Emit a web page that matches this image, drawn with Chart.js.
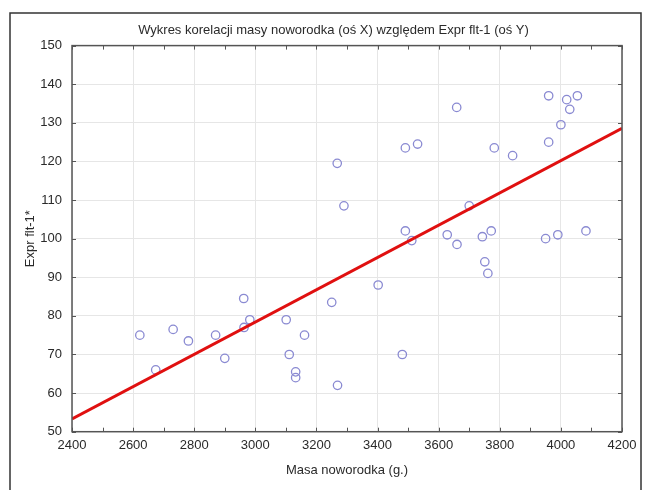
<!DOCTYPE html>
<html>
<head>
<meta charset="utf-8">
<style>
  html, body { margin: 0; padding: 0; background: #fff; }
  #wrap { width: 653px; height: 490px; }
</style>
<script src="https://cdn.jsdelivr.net/npm/chart.js@4/dist/chart.umd.min.js"></script>
</head>
<body>
<div id="wrap"><canvas id="wykres" width="653" height="490"></canvas></div>
<script>
// masa noworodka (g.) i Expr flt-1
const masa = [2622, 2674, 2731, 2781, 2870, 2900, 2962, 2963, 2982, 3101,
              3111, 3132, 3132, 3161, 3250, 3269, 3402, 3268, 3290, 3491,
              3531, 3491, 3512, 3628, 3659, 3960, 4019, 4054, 4029, 4000,
              3960, 3782, 3842, 3700, 3660, 3743, 3772, 3751, 3761, 3950,
              3990, 4082, 3481];
const expr = [75, 66, 76.5, 73.5, 75, 69, 84.5, 77, 79, 79,
              70, 65.5, 64, 75, 83.5, 62, 88, 119.5, 108.5, 123.5,
              124.5, 102, 99.5, 101, 134, 137, 136, 137, 133.5, 129.5,
              125, 123.5, 121.5, 108.5, 98.5, 100.5, 102, 94, 91, 100,
              101, 102, 70];

// linia regresji (końce)
const trendX = [2400, 4200];
const trendY = [53.3, 128.6];

const xTicks = [2400, 2600, 2800, 3000, 3200, 3400, 3600, 3800, 4000, 4200];
const yTicks = [50, 60, 70, 80, 90, 100, 110, 120, 130, 140, 150];

const FONT = 'Liberation Sans, Arial, sans-serif';
const TEXT = '#2a2a2a';

// ramka, górna/prawa krawędź i kreski podziałki do środka
const ramka = {
  id: 'ramka',
  afterDraw(chart) {
    const { ctx, chartArea: a, scales } = chart;
    ctx.save();
    ctx.strokeStyle = '#555';
    ctx.lineWidth = 1.5;
    ctx.strokeRect(a.left, a.top, a.right - a.left, a.bottom - a.top);
    ctx.lineWidth = 1;
    ctx.beginPath();
    for (let v = 2400; v <= 4200; v += 100) {
      const px = Math.round(scales.x.getPixelForValue(v)) + 0.5;
      ctx.moveTo(px, a.bottom); ctx.lineTo(px, a.bottom - 4);
      ctx.moveTo(px, a.top); ctx.lineTo(px, a.top + 4);
    }
    for (let v = 50; v <= 150; v += 10) {
      const py = Math.round(scales.y.getPixelForValue(v)) + 0.5;
      ctx.moveTo(a.left, py); ctx.lineTo(a.left + 4, py);
      ctx.moveTo(a.right, py); ctx.lineTo(a.right - 4, py);
    }
    ctx.stroke();
    // zewnętrzna ramka
    ctx.strokeStyle = '#333';
    ctx.lineWidth = 1.5;
    ctx.strokeRect(10, 13, 631, 490);
    ctx.restore();
  }
};

new Chart(document.getElementById('wykres'), {
  data: {
    datasets: [
      {
        type: 'line',
        label: 'regresja',
        data: trendX.map((x, i) => ({ x, y: trendY[i] })),
        borderColor: '#e01010',
        borderWidth: 3,
        pointRadius: 0,
        fill: false
      },
      {
        type: 'scatter',
        label: 'Expr flt-1',
        data: masa.map((x, i) => ({ x, y: expr[i] })),
        borderColor: '#8a8ad2',
        backgroundColor: 'rgba(0,0,0,0)',
        borderWidth: 1.3,
        pointRadius: 4.2,
        pointHoverRadius: 4.2
      }
    ]
  },
  options: {
    responsive: false,
    animation: false,
    layout: { padding: { left: 14, right: 0, top: 13, bottom: 0 } },
    plugins: {
      legend: { display: false },
      tooltip: { enabled: false },
      title: {
        display: true,
        text: 'Wykres korelacji masy noworodka (oś X) względem Expr flt-1 (oś Y)',
        color: TEXT,
        font: { family: FONT, size: 13, weight: 'normal' },
        padding: { top: 9.5, bottom: 7.5 }
      }
    },
    scales: {
      x: {
        type: 'linear',
        min: 2400,
        max: 4200,
        afterBuildTicks: s => { s.ticks = xTicks.map(v => ({ value: v })); },
        afterFit: s => { s.height = 58.3; },
        ticks: {
          color: TEXT,
          font: { family: FONT, size: 13 },
          padding: 6,
          maxRotation: 0,
          callback: v => String(v)
        },
        grid: { color: '#e6e6e6', drawTicks: false },
        border: { display: false },
        title: {
          display: true,
          text: 'Masa noworodka (g.)',
          color: TEXT,
          font: { family: FONT, size: 13 },
          padding: { top: 0, bottom: 12.2 }
        }
      },
      y: {
        type: 'linear',
        min: 50,
        max: 150,
        afterBuildTicks: s => { s.ticks = yTicks.map(v => ({ value: v })); },
        afterFit: s => { s.width = 58; },
        ticks: {
          color: TEXT,
          font: { family: FONT, size: 13 },
          padding: 10,
          callback: v => String(v)
        },
        grid: { color: '#e6e6e6', drawTicks: false },
        border: { display: false },
        title: {
          display: true,
          text: 'Expr flt-1*',
          color: TEXT,
          font: { family: FONT, size: 13 },
          padding: { top: 8.2, bottom: 0 }
        }
      },
      y2: {
        type: 'linear',
        position: 'right',
        min: 50,
        max: 150,
        afterFit: s => { s.width = 31; },
        ticks: { display: false },
        grid: { display: false },
        border: { display: false }
      }
    }
  },
  plugins: [ramka]
});
</script>
</body>
</html>
